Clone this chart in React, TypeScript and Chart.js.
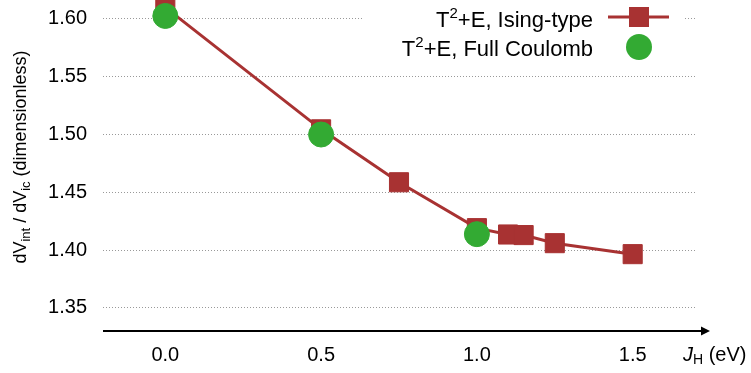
import React, { useEffect, useRef } from "react";
import { Chart, registerables } from "chart.js";
Chart.register(...registerables);

// ---- data ----
const jHIsing = [0.0, 0.5, 0.75, 1.0, 1.1, 1.15, 1.25, 1.5];
const ratioIsing = [1.61, 1.5045, 1.4587, 1.419, 1.4135, 1.413, 1.406, 1.3965];
const jHCoulomb = [0.0, 0.5, 1.0];
const ratioCoulomb = [1.6026, 1.5, 1.4138];
const yTickValues = [1.35, 1.4, 1.45, 1.5, 1.55, 1.6];
const xTickValues = [0.0, 0.5, 1.0, 1.5];
const isingLabel = ["T", "2", "+E, Ising-type"];
const coulombLabel = ["T", "2", "+E, Full Coulomb"];
const yTitleParts = ["dV", "int", " / dV", "ic", " (dimensionless)"];
const xTitleParts = ["J", "H", " (eV)"];

const RED = "#a83232";
const GREEN = "#33aa33";
const FONT = "'Liberation Sans', Arial, Helvetica, sans-serif";

type Run = { text: string; font: string; dy: number };

function runsWidth(ctx: CanvasRenderingContext2D, runs: Run[]) {
  let w = 0;
  for (const r of runs) {
    ctx.font = r.font;
    w += ctx.measureText(r.text).width;
  }
  return w;
}

function drawRuns(ctx: CanvasRenderingContext2D, runs: Run[], x: number, y: number, align: "left" | "right" | "center") {
  const w = runsWidth(ctx, runs);
  let cx = align === "left" ? x : align === "right" ? x - w : x - w / 2;
  ctx.textAlign = "left";
  ctx.textBaseline = "alphabetic";
  for (const r of runs) {
    ctx.font = r.font;
    ctx.fillText(r.text, cx, y + r.dy);
    cx += ctx.measureText(r.text).width;
  }
}

const decorPlugin = {
  id: "decor",
  afterDatasetsDraw(chart: any) {
    const ctx: CanvasRenderingContext2D = chart.ctx;
    const area = chart.chartArea;
    ctx.save();
    ctx.fillStyle = "#000";

    // x axis arrow
    const ay = area.bottom;
    const tipX = area.right + 15;
    ctx.strokeStyle = "#000";
    ctx.lineWidth = 2;
    ctx.beginPath();
    ctx.moveTo(area.left, ay);
    ctx.lineTo(tipX - 6, ay);
    ctx.stroke();
    ctx.beginPath();
    ctx.moveTo(tipX, ay);
    ctx.lineTo(tipX - 9, ay - 4.5);
    ctx.lineTo(tipX - 9, ay + 4.5);
    ctx.closePath();
    ctx.fill();

    // x axis title
    drawRuns(
      ctx,
      [
        { text: xTitleParts[0], font: `italic 20px ${FONT}`, dy: 0 },
        { text: xTitleParts[1], font: `14px ${FONT}`, dy: 3 },
        { text: xTitleParts[2], font: `20px ${FONT}`, dy: 0 },
      ],
      683,
      361,
      "left"
    );

    // y axis title (rotated)
    ctx.save();
    ctx.translate(26, 157);
    ctx.rotate(-Math.PI / 2);
    drawRuns(
      ctx,
      [
        { text: yTitleParts[0], font: `18px ${FONT}`, dy: 0 },
        { text: yTitleParts[1], font: `13px ${FONT}`, dy: 4 },
        { text: yTitleParts[2], font: `18px ${FONT}`, dy: 0 },
        { text: yTitleParts[3], font: `13px ${FONT}`, dy: 4 },
        { text: yTitleParts[4], font: `18px ${FONT}`, dy: 0 },
      ],
      0,
      0,
      "center"
    );
    ctx.restore();

    // legend
    ctx.fillStyle = "#fff";
    ctx.fillRect(363, 0, 320, 62);
    ctx.fillStyle = "#000";
    const mk = (parts: string[]): Run[] => [
      { text: parts[0], font: `22px ${FONT}`, dy: 0 },
      { text: parts[1], font: `15px ${FONT}`, dy: -9 },
      { text: parts[2], font: `22px ${FONT}`, dy: 0 },
    ];
    drawRuns(ctx, mk(isingLabel), 593, 27, "right");
    drawRuns(ctx, mk(coulombLabel), 593, 56, "right");
    // symbol 1: line + square
    ctx.strokeStyle = RED;
    ctx.lineWidth = 3;
    ctx.beginPath();
    ctx.moveTo(608, 17);
    ctx.lineTo(669, 17);
    ctx.stroke();
    ctx.fillStyle = RED;
    ctx.fillRect(629, 7, 20, 20);
    // symbol 2: circle
    ctx.fillStyle = GREEN;
    ctx.beginPath();
    ctx.arc(639, 47, 13, 0, Math.PI * 2);
    ctx.fill();
    ctx.restore();
  },
};

export default function App() {
  const ref = useRef<HTMLCanvasElement | null>(null);
  useEffect(() => {
    if (!ref.current) return;
    const chart = new Chart(ref.current, {
      type: "scatter",
      data: {
        datasets: [
          {
            label: "T²+E, Full Coulomb",
            data: jHCoulomb.map((x, i) => ({ x, y: ratioCoulomb[i] })),
            showLine: false,
            pointStyle: "circle",
            pointRadius: 12.5,
            pointBorderWidth: 1,
            backgroundColor: GREEN,
            borderColor: GREEN,
            clip: false,
            order: 0,
          },
          {
            label: "T²+E, Ising-type",
            data: jHIsing.map((x, i) => ({ x, y: ratioIsing[i] })),
            showLine: true,
            borderColor: RED,
            borderWidth: 3,
            backgroundColor: RED,
            pointStyle: "rect",
            pointRadius: 13.5,
            pointBorderWidth: 1,
            pointBorderColor: RED,
            pointBackgroundColor: RED,
            tension: 0,
            clip: false,
            order: 1,
          },
        ],
      },
      options: {
        animation: false,
        responsive: false,
        devicePixelRatio: 1,
        layout: { autoPadding: false, padding: { left: 0, right: 56, top: 0, bottom: 0 } },
        plugins: { legend: { display: false }, tooltip: { enabled: false } },
        scales: {
          x: {
            type: "linear",
            min: -0.2,
            max: 1.7,
            afterBuildTicks: (s: any) => {
              s.ticks = xTickValues.map((v) => ({ value: v }));
            },
            afterFit: (s: any) => {
              s.height = 42;
              s.paddingLeft = 0;
              s.paddingRight = 0;
            },
            grid: { display: false, drawTicks: false },
            border: { display: false },
            ticks: {
              padding: 12,
              color: "#000",
              font: { family: FONT, size: 20 },
              callback: (v: any) => Number(v).toFixed(1),
            },
          },
          y: {
            type: "linear",
            min: 1.33,
            max: 1.6164,
            afterBuildTicks: (s: any) => {
              s.ticks = yTickValues.map((v) => ({ value: v }));
            },
            afterFit: (s: any) => {
              s.width = 103;
              s.paddingTop = 0;
              s.paddingBottom = 0;
            },
            grid: { color: "#999", lineWidth: 1, drawTicks: false },
            border: { display: false, dash: [1, 2] },
            ticks: {
              padding: 16,
              color: "#000",
              font: { family: FONT, size: 20 },
              callback: (v: any) => Number(v).toFixed(2),
            },
          },
        },
      },
      plugins: [decorPlugin],
    } as any);
    return () => chart.destroy();
  }, []);
  return (
    <div style={{ position: "absolute", left: 0, top: 0, width: 751, height: 373 }}>
      <canvas ref={ref} width={751} height={373} style={{ width: 751, height: 373 }} />
    </div>
  );
}
